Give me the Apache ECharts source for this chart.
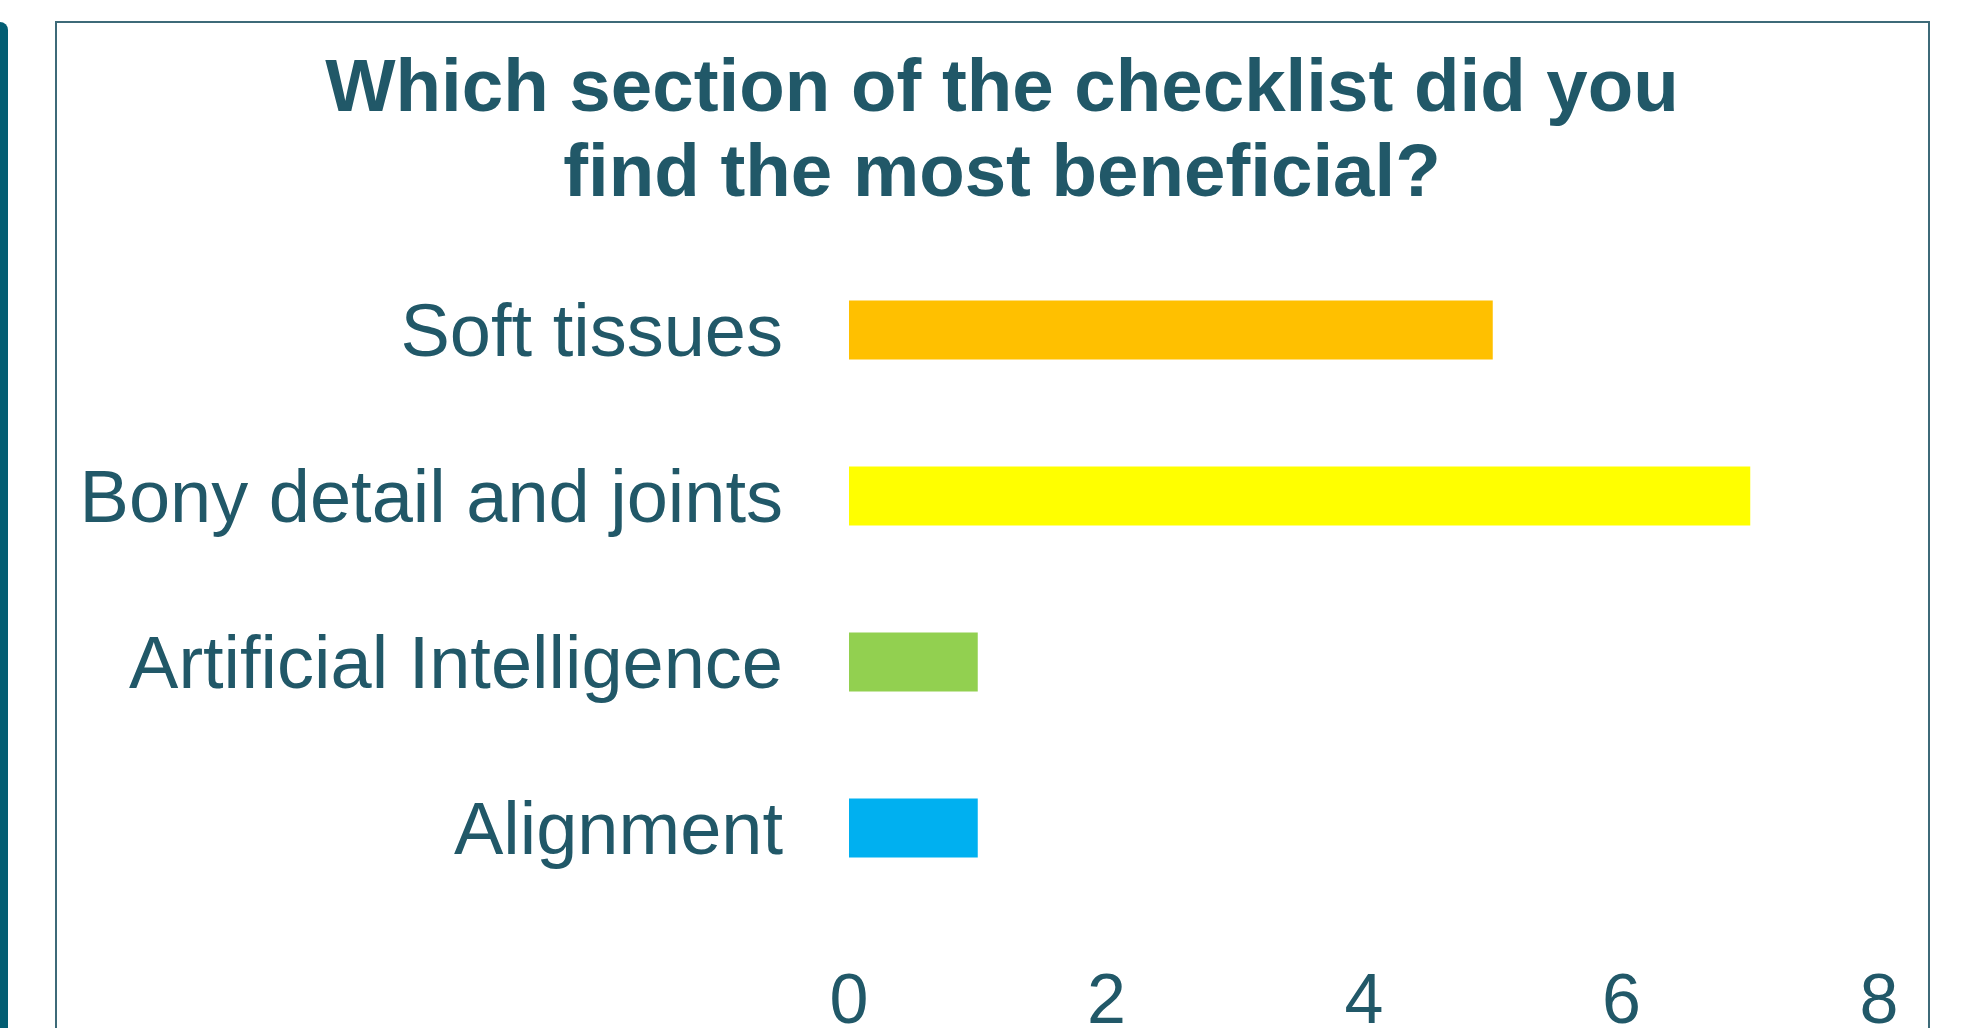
<!DOCTYPE html>
<html>
<head>
<meta charset="utf-8">
<script src="https://cdn.jsdelivr.net/npm/echarts@6/dist/echarts.min.js"></script>
<style>
  html, body { margin: 0; padding: 0; background: #fff; }
  #chart { width: 1964px; height: 1028px; }
</style>
</head>
<body>
<div id="chart"></div>
<script>
const categories = ['Soft tissues', 'Bony detail and joints', 'Artificial Intelligence', 'Alignment'];
const counts = [5, 7, 1, 1];
const barColors = ['#FFC000', '#FFFF00', '#92D050', '#00B0F0'];
const xTicks = [0, 2, 4, 6, 8];

const textColor = '#215868';

const myChart = echarts.init(document.getElementById('chart'));

const option = {
  backgroundColor: '#ffffff',
  animation: false,
  title: {
    text: 'Which section of the checklist did you\nfind the most beneficial?',
    left: 997,
    top: 43,
    textAlign: 'center',
    textStyle: {
      color: textColor,
      fontFamily: 'Liberation Sans, Arial',
      fontWeight: 'bold',
      fontSize: 74.5,
      lineHeight: 85
    }
  },
  graphic: [
    {
      type: 'rect',
      shape: { x: 0, y: 22, width: 8, height: 1020, r: [0, 8, 0, 0] },
      style: { fill: '#035e73' },
      z: 10
    },
    {
      type: 'rect',
      shape: { x: 56, y: 22, width: 1873, height: 1030 },
      style: { fill: 'none', stroke: '#3d6a78', lineWidth: 2 },
      z: 10
    }
  ],
  grid: {
    left: 849,
    right: 1964 - 1879,
    top: 247,
    bottom: 1028 - 911,
    containLabel: false,
    outerBoundsMode: 'none'
  },
  xAxis: {
    type: 'value',
    min: xTicks[0],
    max: xTicks[xTicks.length - 1],
    interval: 2,
    axisLine: { show: false },
    axisTick: { show: false },
    splitLine: { show: false },
    axisLabel: {
      color: textColor,
      fontFamily: 'Liberation Sans, Arial',
      fontSize: 70,
      margin: 58
    }
  },
  yAxis: {
    type: 'category',
    inverse: true,
    data: categories,
    axisLine: { show: false },
    axisTick: { show: false },
    axisLabel: {
      color: textColor,
      fontFamily: 'Liberation Sans, Arial',
      fontSize: 74,
      margin: 66,
      verticalAlign: 'top',
      lineHeight: 12
    }
  },
  series: [{
    type: 'bar',
    barWidth: 59,
    data: counts.map((v, i) => ({ value: v, itemStyle: { color: barColors[i] } }))
  }]
};

myChart.setOption(option);
window.addEventListener('resize', function () { myChart.resize(); });
</script>
</body>
</html>
